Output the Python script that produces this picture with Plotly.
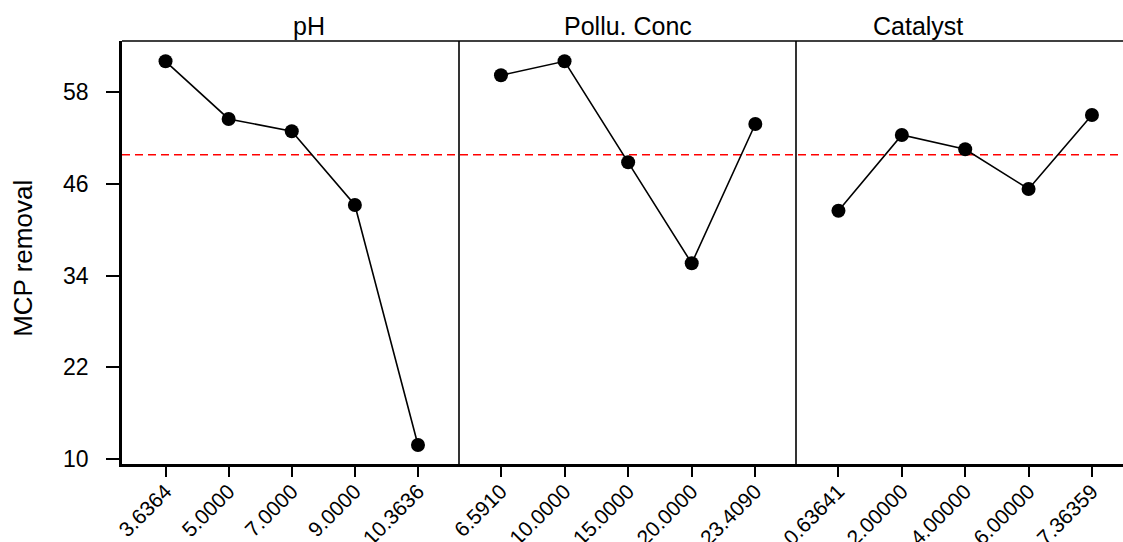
import plotly.graph_objects as go

# ---- data ----
factors = ["pH", "Pollu. Conc", "Catalyst"]
ph_levels = ["3.6364", "5.0000", "7.0000", "9.0000", "10.3636"]
ph_values = [61.97, 54.44, 52.83, 43.21, 11.86]
conc_levels = ["6.5910", "10.0000", "15.0000", "20.0000", "23.4090"]
conc_values = [60.14, 61.97, 48.78, 35.59, 53.78]
cat_levels = ["0.63641", "2.00000", "4.00000", "6.00000", "7.36359"]
cat_values = [42.46, 52.35, 50.48, 45.30, 54.96]
grand_mean = 49.77
y_ticks = [10, 22, 34, 46, 58]
y_title = "MCP removal"

FONT = "Liberation Sans, Arial, sans-serif"
W, H = 1123, 542
L, R, T, B = 122, 0, 41, 78
pw = W - L - R
edges = [0, 337 / pw, 674 / pw, 1.0]
xranges = [[-0.69, 4.65], [-0.66, 4.64], [-0.67, 4.49]]
yrange = [9.386, 64.62]

levels = [ph_levels, conc_levels, cat_levels]
values = [ph_values, conc_values, cat_values]

fig = go.Figure()
layout = dict(
    width=W, height=H,
    margin=dict(l=L, r=R, t=T, b=B, autoexpand=False),
    paper_bgcolor="white", plot_bgcolor="white",
    showlegend=False,
    font=dict(family=FONT, color="black"),
)

for i in range(3):
    xa = "x" if i == 0 else f"x{i+1}"
    ya = "y" if i == 0 else f"y{i+1}"
    xs = list(range(len(levels[i])))
    fig.add_trace(go.Scatter(
        x=xs, y=values[i], mode="lines+markers",
        line=dict(color="black", width=1.6),
        marker=dict(color="black", size=14),
        xaxis=xa, yaxis=ya, cliponaxis=False,
    ))
    xkey = "xaxis" if i == 0 else f"xaxis{i+1}"
    ykey = "yaxis" if i == 0 else f"yaxis{i+1}"
    layout[xkey] = dict(
        domain=[edges[i], edges[i + 1]], anchor=ya,
        range=xranges[i], tickmode="array", tickvals=xs, ticktext=levels[i],
        tickangle=-45, ticks="outside", ticklen=10, tickwidth=2, tickcolor="black",
        tickfont=dict(family=FONT, size=21, color="black"),
        ticklabelstandoff=-6,
        showline=True, linecolor="black", linewidth=2.5,
        showgrid=False, zeroline=False, fixedrange=True, automargin=False,
    )
    if i == 0:
        layout[ykey] = dict(
            domain=[0, 1], anchor=xa, range=yrange,
            tickmode="array", tickvals=y_ticks,
            ticks="outside", ticklen=13, tickwidth=2, tickcolor="black",
            tickfont=dict(family=FONT, size=23, color="black"),
            ticklabelstandoff=13,
            showline=True, linecolor="black", linewidth=2.5,
            showgrid=False, zeroline=False, automargin=False,
        )
    else:
        layout[ykey] = dict(
            domain=[0, 1], anchor=xa, range=yrange, matches="y",
            showticklabels=False, ticks="", showline=False,
            showgrid=False, zeroline=False, automargin=False,
        )

shapes = [
    # top border
    dict(type="line", xref="paper", yref="paper", x0=0, x1=1, y0=1, y1=1,
         line=dict(color="black", width=1.6)),
    # panel separators
    dict(type="line", xref="paper", yref="paper", x0=edges[1], x1=edges[1], y0=0, y1=1,
         line=dict(color="black", width=1.6)),
    dict(type="line", xref="paper", yref="paper", x0=edges[2], x1=edges[2], y0=0, y1=1,
         line=dict(color="black", width=1.6)),
    # grand mean dashed line
    dict(type="line", xref="paper", yref="y", x0=0, x1=1, y0=grand_mean, y1=grand_mean,
         line=dict(color="#ff0000", width=1.6, dash="8px,5px"), layer="below"),
]
layout["shapes"] = shapes

annotations = []
centers = [(edges[0] + edges[1]) / 2, (edges[1] + edges[2]) / 2, (edges[2] + edges[2] + 337 / pw) / 2]
for i, name in enumerate(factors):
    annotations.append(dict(
        text=name, xref="paper", yref="paper",
        x=centers[i], y=1, yanchor="bottom", yshift=-1, showarrow=False,
        font=dict(family=FONT, size=25, color="black"),
    ))
annotations.append(dict(
    text=y_title, xref="paper", yref="paper", x=0, y=0.485,
    xanchor="center", yanchor="middle", xshift=-99, textangle=-90,
    showarrow=False, font=dict(family=FONT, size=26, color="black"),
))
layout["annotations"] = annotations

fig.update_layout(**layout)
fig.write_html(
    "out.html",
    config={"displayModeBar": False},
    post_script="document.body.style.margin='0';document.body.style.padding='0';",
)
